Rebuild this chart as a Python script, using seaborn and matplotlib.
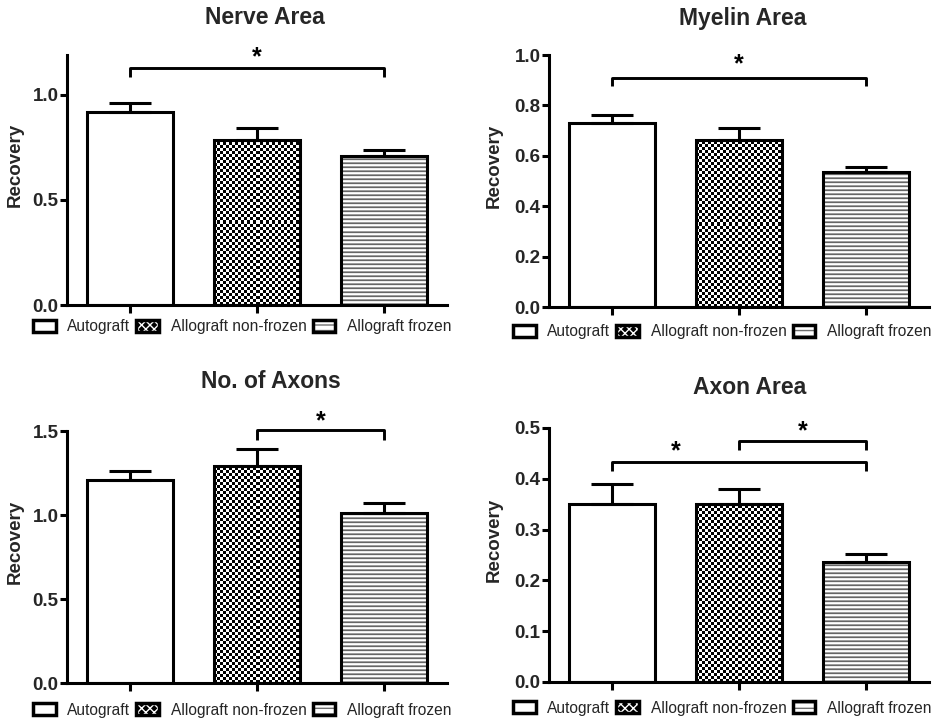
import numpy as np
import pandas as pd
import matplotlib
matplotlib.use("Agg")
import matplotlib.pyplot as plt
from matplotlib.patches import Rectangle
from matplotlib.legend_handler import HandlerBase
import seaborn as sns

# ---- data -------------------------------------------------------------
groups = ["Autograft", "Allograft non-frozen", "Allograft frozen"]

titles = ["Nerve Area", "Myelin Area", "No. of Axons", "Axon Area"]

nerve_mean = [0.92, 0.786, 0.71]
nerve_sem = [0.042, 0.057, 0.028]

myelin_mean = [0.73, 0.663, 0.535]
myelin_sem = [0.03, 0.047, 0.021]

axons_mean = [1.21, 1.29, 1.01]
axons_sem = [0.05, 0.10, 0.06]

axon_area_mean = [0.35, 0.35, 0.236]
axon_area_sem = [0.04, 0.03, 0.016]

y_limits = [1.19, 1.0, 1.5, 0.5]
y_ticks = [[0.0, 0.5, 1.0],
           [0.0, 0.2, 0.4, 0.6, 0.8, 1.0],
           [0.0, 0.5, 1.0, 1.5],
           [0.0, 0.1, 0.2, 0.3, 0.4, 0.5]]

# significance brackets: (from group, to group, bar height, tip height, star x, star y)
nerve_sig = [(0, 2, 1.129, 1.086, 1.0, 1.18)]
myelin_sig = [(0, 2, 0.909, 0.877, 1.0, 0.962)]
axons_sig = [(1, 2, 1.506, 1.446, 1.5, 1.56)]
axon_area_sig = [(0, 2, 0.433, 0.415, 0.5, 0.455),
                 (1, 2, 0.474, 0.457, 1.5, 0.494)]

# ---- style ------------------------------------------------------------
sns.set_theme(style="ticks")
plt.rcParams["font.family"] = ["Liberation Sans", "DejaVu Sans"]
plt.rcParams["hatch.linewidth"] = 1.0

LW = 2.2
W, H = 947, 723
fig = plt.figure(figsize=(W / 100, H / 100), dpi=100)
fig.patch.set_facecolor("white")


def px_rect(left, right, top, bottom):
    return [left / W, 1 - bottom / H, (right - left) / W, (bottom - top) / H]


axes_rects = [px_rect(67, 447, 55, 305),
              px_rect(549, 929, 55, 307),
              px_rect(67, 447, 431, 683),
              px_rect(549, 929, 428, 682)]
title_pos = [(265, 18), (743, 18), (271, 382), (750, 388)]
legend_pos = [(33, 327), (513, 332), (33, 710), (513, 708)]
ylabel_x = [-0.113, -0.121, -0.113, -0.121]

panels = [(nerve_mean, nerve_sem, nerve_sig),
          (myelin_mean, myelin_sem, myelin_sig),
          (axons_mean, axons_sem, axons_sig),
          (axon_area_mean, axon_area_sem, axon_area_sig)]

textures = ["plain", "checker", "stripes"]


def fill_texture(ax, patch, kind):
    """Paint a pixel-level texture inside a bar, clipped to its outline."""
    if kind == "plain":
        return
    x0, y0 = patch.get_x(), patch.get_y()
    w, h = patch.get_width(), patch.get_height()
    p0 = ax.transData.transform((x0, y0))
    p1 = ax.transData.transform((x0 + w, y0 + h))
    nx = max(int(round(p1[0] - p0[0])), 1)
    ny = max(int(round(p1[1] - p0[1])), 1)
    rows = np.arange(ny)[:, None]
    cols = np.arange(nx)[None, :]
    if kind == "checker":
        arr = (((rows // 3) + (cols // 3)) % 2).astype(float)
    else:
        pattern = np.array([0.40, 0.62, 1.0, 0.92])
        arr = np.repeat(pattern[rows % 4], nx, axis=1)
    im = ax.imshow(arr, cmap="gray", vmin=0, vmax=1,
                   extent=(x0, x0 + w, y0, y0 + h), origin="lower",
                   interpolation="nearest", aspect="auto",
                   zorder=patch.get_zorder() - 0.01)
    im.set_clip_path(patch)
    patch.set_facecolor("none")


class SwatchHandler(HandlerBase):
    def __init__(self, kind):
        super().__init__()
        self.kind = kind

    def create_artists(self, legend, orig_handle, xdescent, ydescent,
                       width, height, fontsize, trans):
        xy = (-xdescent, -ydescent)
        arts = []
        if self.kind == "checker":
            arts.append(Rectangle(xy, width, height, facecolor="black",
                                  edgecolor="white", hatch="xxxx",
                                  linewidth=0, transform=trans))
        elif self.kind == "stripes":
            arts.append(Rectangle(xy, width, height, facecolor="white",
                                  edgecolor="#707070", hatch="---",
                                  linewidth=0, transform=trans))
        arts.append(Rectangle(xy, width, height, fill=False,
                              edgecolor="black", linewidth=LW + 0.3,
                              transform=trans))
        return arts


for i, (means, sems, sigs) in enumerate(panels):
    ax = fig.add_axes(axes_rects[i])
    df = pd.DataFrame({"group": groups, "value": means})
    sns.barplot(data=df, x="group", y="value", order=groups, ax=ax,
                color="white", edgecolor="black", linewidth=LW,
                width=0.68, errorbar=None, saturation=1)
    ax.set_xlim(-0.5, 2.5)
    ax.set_ylim(0, y_limits[i])

    # upper-only error bars
    xs = np.arange(len(groups))
    ax.errorbar(xs, means, yerr=[np.zeros(len(sems)), sems], fmt="none",
                ecolor="black", elinewidth=LW, capsize=15, capthick=LW,
                zorder=3)

    for patch, kind in zip(ax.patches, textures):
        patch.set_zorder(2)
        fill_texture(ax, patch, kind)
    ax.set_xlim(-0.5, 2.5)
    ax.set_ylim(0, y_limits[i])

    # significance brackets
    for a, b, ybar, ytip, sx, sy in sigs:
        ax.plot([a, a, b, b], [ytip, ybar, ybar, ytip], color="black",
                lw=2.1, solid_capstyle="butt", clip_on=False, zorder=4)
        ax.text(sx, sy, "*", ha="center", va="center", fontsize=18,
                fontweight="bold", color="black", clip_on=False)

    # axes styling
    sns.despine(ax=ax)
    for side in ("left", "bottom"):
        ax.spines[side].set_linewidth(LW)
        ax.spines[side].set_color("black")
    ax.set_xticks(xs)
    ax.set_xticklabels([])
    ax.set_yticks(y_ticks[i])
    ax.set_yticklabels([f"{t:.1f}" for t in y_ticks[i]],
                       fontsize=13.5, fontweight="bold")
    ax.tick_params(axis="both", direction="out", length=5, width=LW,
                   color="black", pad=1)
    ax.tick_params(axis="x", length=5.5)
    ax.set_xlabel("")
    ax.set_ylabel("Recovery", fontsize=13.5, fontweight="bold")
    ax.yaxis.set_label_coords(ylabel_x[i], 0.56)
    ax.set_facecolor("white")
    ax.grid(False)

    fig.text(title_pos[i][0] / W, 1 - title_pos[i][1] / H, titles[i],
             ha="center", va="center", fontsize=16.5, fontweight="bold")

    handles = [Rectangle((0, 0), 1, 1) for _ in groups]
    hmap = {h: SwatchHandler(k) for h, k in zip(handles, textures)}
    ax.legend(handles, groups, handler_map=hmap, ncol=3, frameon=False,
              loc="center left",
              bbox_to_anchor=(legend_pos[i][0] / W, 1 - legend_pos[i][1] / H),
              bbox_transform=fig.transFigure, borderpad=0, borderaxespad=0,
              fontsize=11.2, handlelength=1.45, handleheight=0.8,
              handletextpad=0.75, columnspacing=0.4)

fig.savefig("out.png", dpi=100, facecolor="white")
